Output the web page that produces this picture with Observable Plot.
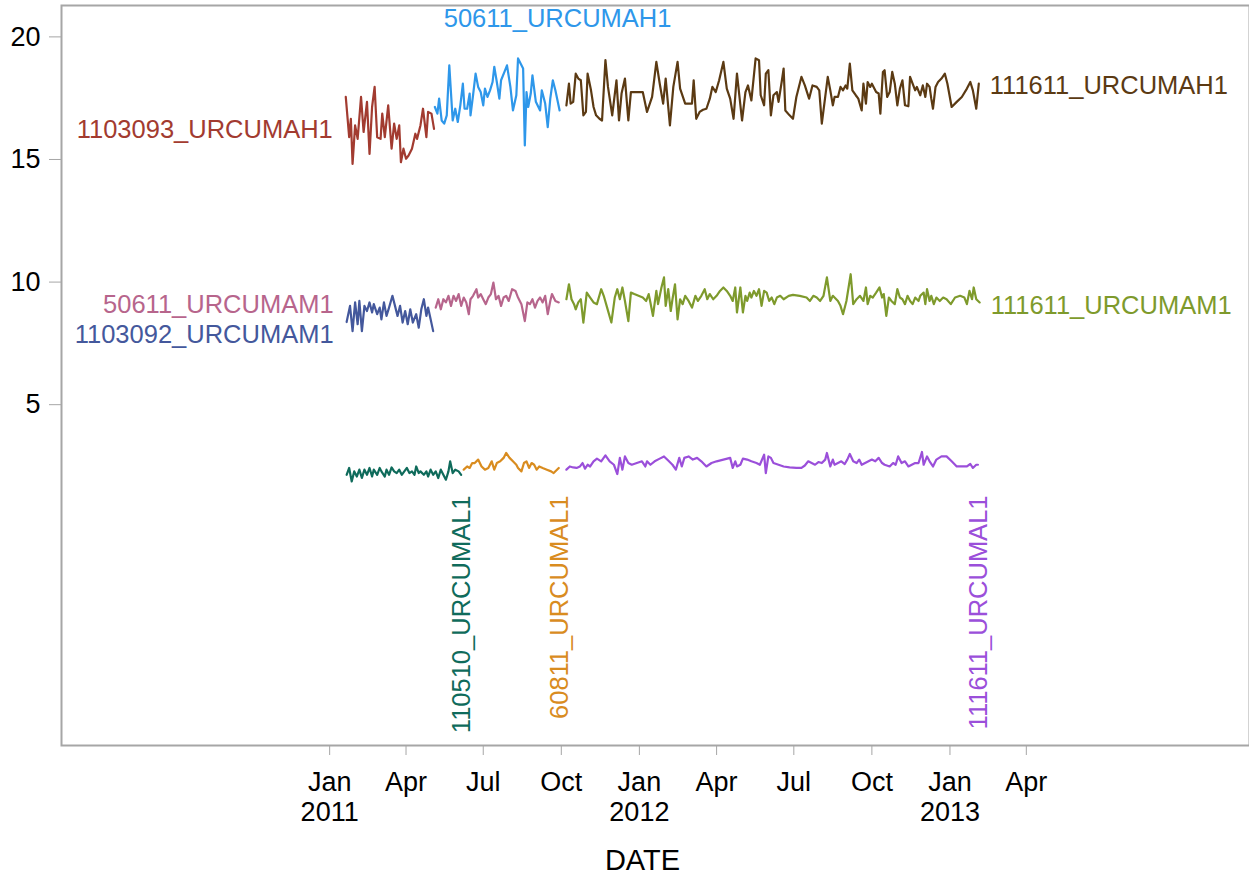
<!DOCTYPE html>
<html><head><meta charset="utf-8">
<script src="https://cdn.jsdelivr.net/npm/d3@7"></script>
<script src="https://cdn.jsdelivr.net/npm/@observablehq/plot@0.6"></script>
<style>
body{margin:0;background:#fff}
</style>
</head><body><div id="chart"></div>
<script>
// ---- data: day offsets from 2011-01-01 and values ----
const seriesNames = ["1103093_URCUMAH1","50611_URCUMAH1","111611_URCUMAH1","1103092_URCUMAM1","50611_URCUMAM1","111611_URCUMAM1","110510_URCUMAL1","60811_URCUMAL1","111611_URCUMAL1"];
const seriesColors = ["#a23b30","#2e97ea","#5b3a13","#44589c","#b7658c","#7e9a2c","#0f6b5b","#d98c1f","#9b4fda"];

const days_1103093_AH1 = [19,23,25,27,30,33,37,40,44,47,50,53,56,60,62,65,69,73,76,79,82,84,87,90,93,97,101,103,107,110,114,116,120,123];
const vals_1103093_AH1 = [17.55,15.91,16.66,14.82,16.39,15.84,17.55,16.12,17.35,15.23,17.14,17.96,15.91,15.84,16.87,15.91,17.21,15.44,16.46,15.84,16.39,14.89,15.44,15.03,15.16,15.44,16.05,15.84,16.39,17.07,15.91,16.94,16.87,16.25];

const days_50611_AH1 = [124,127,129,132,135,138,141,145,148,151,154,157,159,162,165,166,169,172,175,178,181,183,186,189,192,194,197,200,202,206,209,213,216,220,222,225,228,230,232,234,237,239,243,246,248,250,254,257,260,263,266,271];
const vals_50611_AH1 = [17.14,16.87,17.48,16.59,16.46,16.80,18.84,16.59,17.07,16.53,17.21,18.09,17.07,17.07,17.69,16.80,17.62,18.50,17.96,17.75,17.21,17.89,17.55,17.82,18.16,18.78,18.16,17.48,18.23,18.57,18.84,17.96,17.00,17.62,19.12,18.91,18.71,15.57,17.75,17.14,17.69,18.43,17.35,17.14,17.00,17.82,17.28,16.32,17.48,18.23,17.82,17.00];

const days_111611_AH1 = [279,282,284,287,290,293,296,299,302,304,308,311,314,318,321,325,328,333,338,341,344,348,352,355,358,363,369,374,380,385,389,393,396,401,405,410,413,419,423,427,429,432,436,440,444,448,451,455,459,464,468,472,476,480,486,490,493,497,502,506,508,512,514,517,520,523,527,529,533,535,537,542,546,550,556,560,565,569,574,577,580,584,587,590,593,595,599,602,605,608,610,613,616,620,623,627,629,632,634,637,639,644,647,649,652,654,657,660,663,666,669,672,675,678,682,684,687,690,692,696,699,702,704,707,709,711,714,717,721,725,728,733,739,745,751,755,758,762,765];
const vals_111611_AH1 = [17.21,18.09,17.28,17.35,18.50,18.30,18.23,16.80,16.94,18.50,17.82,17.14,16.80,16.66,16.59,19.05,17.96,16.80,18.23,16.59,17.69,18.30,16.59,17.75,17.75,17.75,17.75,16.94,17.55,18.98,18.09,17.28,18.30,16.39,17.96,18.98,17.89,17.28,17.28,17.28,18.23,16.66,16.94,17.03,17.07,17.48,17.96,17.75,18.23,18.98,17.89,17.48,16.66,18.50,16.59,17.75,18.02,17.41,19.12,19.05,17.62,17.21,18.50,18.64,16.80,17.62,17.75,17.35,18.23,18.71,17.00,16.80,16.66,17.55,18.37,18.02,17.48,18.02,17.96,17.82,16.46,17.55,18.37,17.82,17.21,17.55,17.55,17.96,17.82,18.02,17.89,18.91,17.82,17.62,17.48,17.00,18.09,17.28,18.16,17.96,18.09,17.75,17.69,16.87,18.57,18.64,17.55,17.75,18.57,18.09,17.21,17.89,18.23,17.21,17.17,18.37,18.09,17.82,17.96,17.62,18.02,17.55,18.09,17.96,17.48,17.07,17.96,18.16,18.30,18.50,18.09,17.14,17.35,17.55,17.89,18.16,17.82,17.07,18.09];

const days_1103092_AM1 = [20,24,27,30,33,35,38,41,44,47,50,52,56,59,61,64,67,70,74,77,80,83,86,89,92,95,98,102,105,108,111,114,116,119,122];
const vals_1103092_AM1 = [8.37,9.03,8.00,9.17,8.28,9.23,8.00,9.03,8.82,9.17,8.76,9.10,8.69,8.96,8.48,9.17,8.62,8.96,9.44,9.03,8.62,9.03,8.35,8.82,8.28,8.89,8.35,8.69,8.14,8.89,9.30,8.62,8.96,8.48,8.00];

const days_50611_AM1 = [125,128,131,134,137,140,143,146,149,152,155,158,161,164,166,169,173,175,178,181,184,187,190,193,196,199,202,205,208,211,215,219,222,226,230,233,236,239,242,245,248,251,254,257,260,262,266,270];
const vals_50611_AM1 = [8.96,9.30,8.89,9.30,9.17,9.44,9.03,9.44,9.23,9.51,9.03,9.37,9.17,8.69,9.30,9.44,9.71,9.37,9.51,9.30,9.10,9.37,9.51,9.98,9.30,9.44,9.03,9.37,9.44,9.23,9.71,9.64,9.37,9.10,8.41,9.17,9.10,9.30,8.96,9.23,9.37,9.17,9.44,8.69,9.23,9.51,9.23,9.17];

const days_111611_AM1 = [279,282,285,288,290,293,296,299,303,307,311,315,320,323,327,332,336,339,342,345,348,352,355,359,364,369,373,376,378,381,385,387,391,394,396,399,402,404,407,410,413,416,419,423,427,431,434,438,442,445,448,452,456,460,464,468,472,475,478,480,484,487,490,492,495,497,500,503,506,509,512,515,518,521,524,527,531,535,541,546,554,562,566,570,574,578,582,586,590,593,595,599,602,605,609,614,617,621,625,629,632,634,637,640,644,648,651,653,656,659,662,666,669,672,675,678,681,684,687,690,694,696,700,702,704,707,709,712,715,719,723,727,732,737,743,748,751,754,757,759,762,766];
const vals_111611_AM1 = [9.30,9.91,9.30,9.10,8.89,9.17,9.30,8.35,9.57,9.37,9.17,9.10,9.71,9.44,8.96,8.35,9.37,9.71,9.30,9.78,9.23,8.41,9.57,9.51,9.44,9.37,9.23,9.51,9.17,8.62,9.64,9.10,9.78,10.19,9.03,9.71,8.82,9.30,9.91,8.48,9.30,9.10,9.44,9.23,8.96,9.44,9.23,9.44,9.71,9.30,9.51,9.30,9.44,9.64,9.78,9.64,9.44,9.23,9.78,8.76,9.78,8.76,9.44,9.23,9.57,9.37,9.64,9.44,9.71,9.03,9.64,9.57,9.23,9.37,9.10,9.37,9.44,9.30,9.44,9.48,9.44,9.37,9.23,9.44,9.37,9.23,9.44,10.19,9.23,9.44,9.37,9.23,9.03,8.69,9.23,10.32,9.10,9.30,9.44,9.23,9.78,9.10,9.44,9.37,9.57,9.78,9.37,9.51,8.62,9.37,9.23,9.10,9.71,9.37,9.30,9.10,9.44,9.23,9.10,9.37,9.23,9.44,9.57,9.10,9.71,9.23,9.44,9.10,9.37,9.23,9.37,9.30,9.10,9.37,9.44,9.37,9.10,9.64,9.30,9.78,9.30,9.17];

const days_110510_AL1 = [20,23,26,29,32,35,38,41,44,47,50,52,56,59,61,65,67,70,73,76,79,82,85,88,91,94,97,100,102,105,107,111,114,116,119,122,125,128,131,134,137,140,142,145,148,152,155];
const vals_110510_AL1 = [2.14,2.42,1.87,2.28,2.07,2.35,2.01,2.35,2.14,2.42,2.07,2.35,2.14,2.42,2.28,2.07,2.35,2.14,2.44,2.28,2.21,2.35,2.14,2.28,2.42,2.21,2.28,2.14,2.48,2.21,2.28,2.14,2.28,2.07,2.35,2.14,2.28,2.01,2.35,2.14,1.94,2.28,2.69,2.21,2.35,2.28,2.14];

const days_60811_AL1 = [158,162,165,168,171,175,179,183,187,191,194,197,201,205,208,212,216,220,222,226,229,232,235,238,241,244,247,251,256,261,264,270];
const vals_60811_AL1 = [2.35,2.48,2.42,2.62,2.62,2.76,2.48,2.35,2.42,2.69,2.35,2.62,2.69,2.83,3.03,2.83,2.69,2.55,2.42,2.28,2.62,2.69,2.42,2.62,2.55,2.35,2.48,2.42,2.35,2.28,2.21,2.42];

const days_111611_AL1 = [279,283,287,291,295,298,301,304,307,311,315,320,325,330,335,339,342,345,348,352,356,362,368,372,374,378,383,389,394,399,404,408,412,415,418,423,428,433,438,444,450,456,464,472,475,478,480,484,487,492,497,503,507,512,514,517,520,523,529,535,542,550,556,560,564,568,572,576,580,584,586,590,593,595,599,603,607,610,613,617,621,624,627,631,635,639,643,647,651,654,660,664,667,670,674,678,682,686,690,694,698,700,704,707,711,715,721,727,733,739,745,751,755,758,762,764];
const vals_111611_AL1 = [2.35,2.48,2.44,2.42,2.48,2.62,2.39,2.55,2.48,2.69,2.80,2.69,2.93,2.69,2.55,2.17,2.83,2.35,2.89,2.62,2.55,2.62,2.69,2.48,2.69,2.55,2.69,2.80,2.89,2.72,2.55,2.35,2.83,2.48,2.83,2.89,2.76,2.83,2.69,2.48,2.62,2.69,2.76,2.83,2.42,2.69,2.48,2.55,2.80,2.76,2.69,2.62,2.55,2.96,2.21,2.89,2.83,2.62,2.55,2.48,2.44,2.42,2.42,2.52,2.69,2.62,2.55,2.66,2.62,2.76,3.03,2.48,2.76,2.55,2.62,2.69,2.58,2.76,2.99,2.69,2.62,2.76,2.55,2.62,2.69,2.76,2.69,2.83,2.62,2.55,2.48,2.62,2.55,2.89,2.62,2.69,2.48,2.55,2.62,2.62,3.07,2.55,2.89,2.69,2.48,2.76,2.89,2.89,2.69,2.48,2.48,2.48,2.58,2.42,2.55,2.55];

const seriesDays = [days_1103093_AH1,days_50611_AH1,days_111611_AH1,days_1103092_AM1,days_50611_AM1,days_111611_AM1,days_110510_AL1,days_60811_AL1,days_111611_AL1];
const seriesVals = [vals_1103093_AH1,vals_50611_AH1,vals_111611_AH1,vals_1103092_AM1,vals_50611_AM1,vals_111611_AM1,vals_110510_AL1,vals_60811_AL1,vals_111611_AL1];

const yTicks = [5,10,15,20];
const xTickDates = ["2011-01-01","2011-04-01","2011-07-01","2011-10-01","2012-01-01","2012-04-01","2012-07-01","2012-10-01","2013-01-01","2013-04-01"];
const monthNames = ["Jan","Feb","Mar","Apr","May","Jun","Jul","Aug","Sep","Oct","Nov","Dec"];

// ---- build table ----
const base = new Date(Date.UTC(2011,0,1));
const rows = [];
seriesNames.forEach((name,i)=>{
  seriesDays[i].forEach((d,j)=>rows.push({series:name, date:d3.utcDay.offset(base,d), value:seriesVals[i][j]}));
});
const pointOf = (name, which) => {
  const pts = rows.filter(r=>r.series===name);
  return which==="first" ? pts[0] : pts[pts.length-1];
};
const colorOf = name => seriesColors[seriesNames.indexOf(name)];

const labelFont = "'Liberation Sans', Arial, sans-serif";

// curve label placement (layout)
const labelSpecs = [
  {name:"1103093_URCUMAH1", at:"first", anchor:"end", dx:-13, dy:33},
  {name:"50611_URCUMAH1", at:"last", anchor:"middle", top:true, dx:-2, dy:3},
  {name:"111611_URCUMAH1", at:"last", anchor:"start", dx:11, dy:2},
  {name:"50611_URCUMAM1", at:"first", anchor:"end", dx:-13, dy:-17, ref:"1103092_URCUMAM1"},
  {name:"1103092_URCUMAM1", at:"first", anchor:"end", dx:-13, dy:13},
  {name:"111611_URCUMAM1", at:"last", anchor:"start", dx:11, dy:3},
  {name:"110510_URCUMAL1", at:"last", vertical:true},
  {name:"60811_URCUMAL1", at:"last", vertical:true},
  {name:"111611_URCUMAL1", at:"last", vertical:true}
];

const labelMarks = labelSpecs.map(s=>{
  const p = pointOf(s.ref || s.name, s.at);
  const common = {x:"date", text:()=>s.name, fill:colorOf(s.name), fontSize:25.5, fontFamily:labelFont};
  if (s.vertical) return Plot.text([p], {...common, frameAnchor:"bottom", rotate:-90, textAnchor:"end", dx:9, dy:-250});
  if (s.top) return Plot.text([p], {...common, frameAnchor:"top", lineAnchor:"top", textAnchor:s.anchor, dx:s.dx, dy:s.dy});
  return Plot.text([p], {...common, y:"value", textAnchor:s.anchor, dx:s.dx, dy:s.dy});
});

const fmt = d => { const m = d.getUTCMonth(); return m===0 ? `Jan\n${d.getUTCFullYear()}` : monthNames[m]; };

const chart = Plot.plot({
  width:1249, height:876,
  marginLeft:61, marginTop:5, marginRight:0, marginBottom:131,
  style:{background:"#fff", color:"#000", overflow:"visible"},
  x:{type:"utc", domain:[new Date(Date.UTC(2010,1,19)), new Date(Date.UTC(2013,11,20))]},
  y:{domain:[-8.9, 21.28]},
  color:{domain:seriesNames, range:seriesColors},
  marks:[
    Plot.frame({stroke:"#a6a6a6", strokeWidth:2}),
    Plot.axisY({ticks:yTicks, tickSize:12, tickPadding:9, stroke:"#a6a6a6", fill:"#000", fontSize:27, fontFamily:labelFont, label:null}),
    Plot.axisX({ticks:xTickDates.map(s=>new Date(s+"T00:00:00Z")), tickFormat:fmt, tickSize:10, tickPadding:14, stroke:"#a6a6a6", fill:"#000", fontSize:27, fontFamily:labelFont, lineHeight:1.12, label:null}),
    Plot.text(["DATE"], {text:d=>d, frameAnchor:"bottom", dy:124, dx:-13, fontSize:29, fontFamily:labelFont, fill:"#000"}),
    Plot.line(rows, {x:"date", y:"value", z:"series", stroke:"series", strokeWidth:2.2}),
    ...labelMarks
  ]
});
document.getElementById("chart").appendChild(chart);
</script>
</body></html>
